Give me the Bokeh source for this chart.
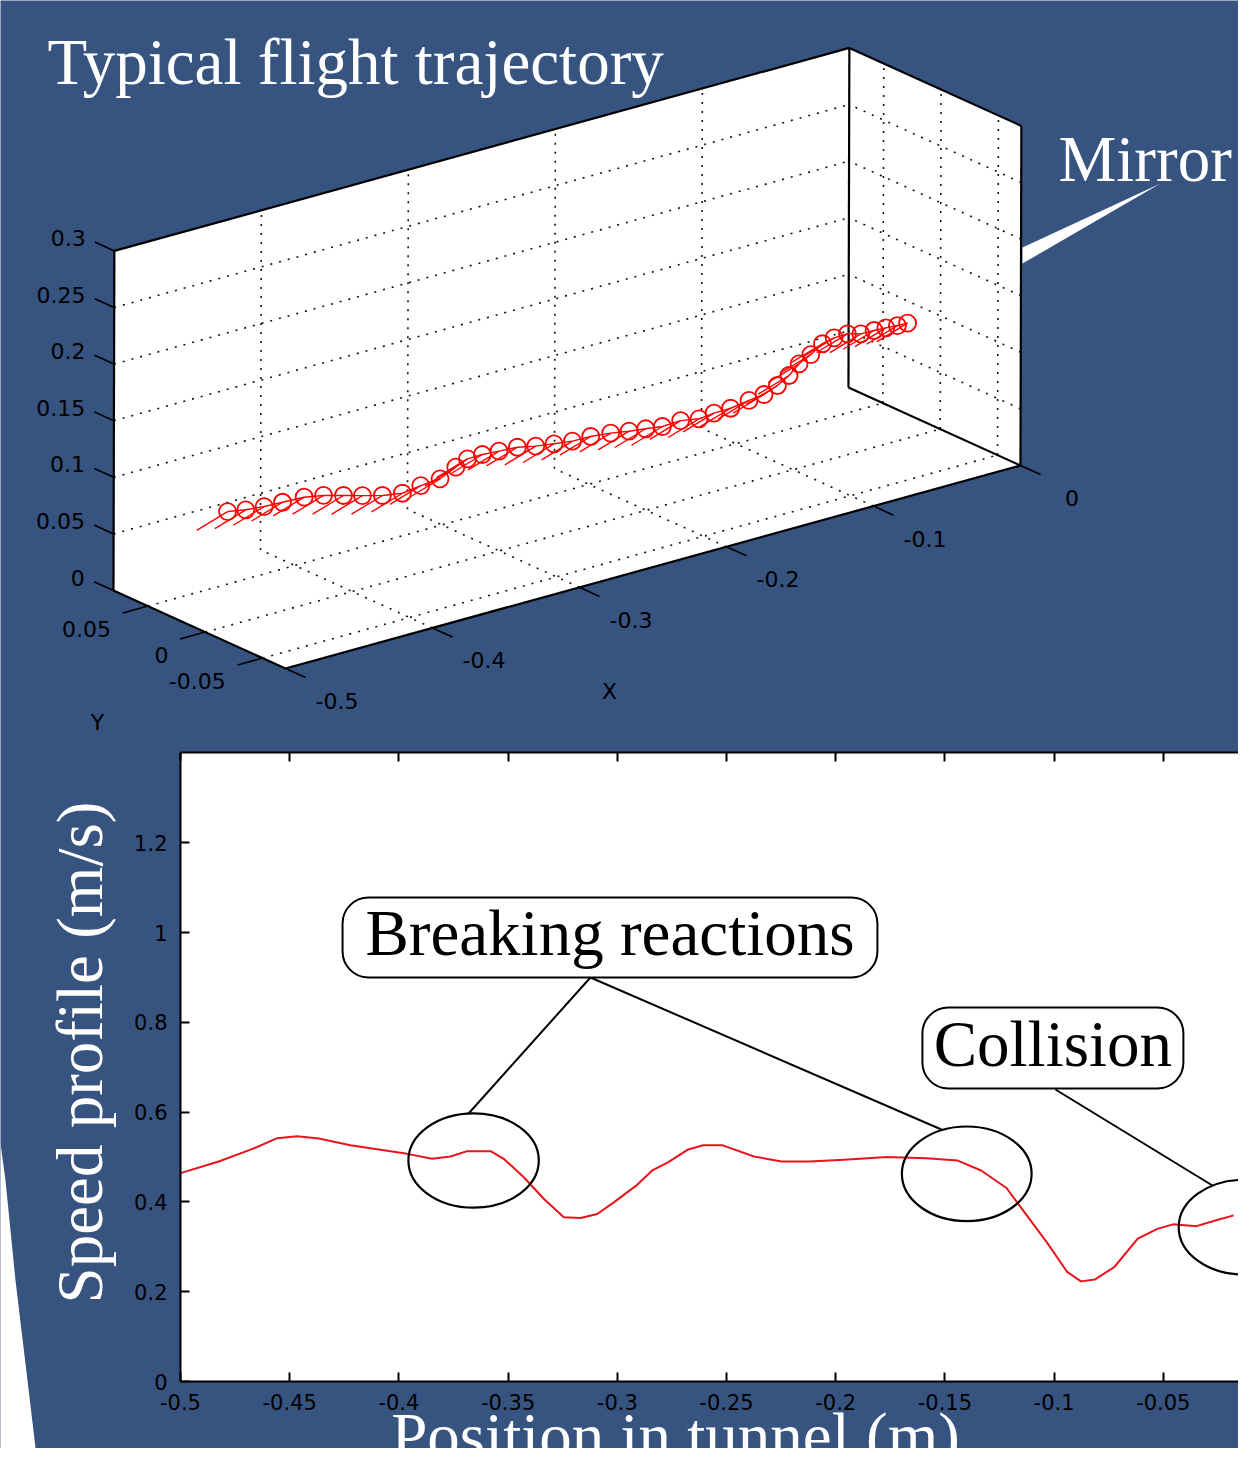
import numpy as np
from bokeh.plotting import figure
from bokeh.models import Range1d, LinearAxis, FixedTicker
from bokeh.embed import file_html
from bokeh.resources import INLINE
from bokeh.core.properties import value

# ---------------- data: speed profile (lower panel) ----------------
position_m = [-0.5, -0.4825, -0.467, -0.4557, -0.4466, -0.4367, -0.4222, -0.4069, -0.3962, -0.3848,
              -0.3764, -0.3687, -0.358, -0.352, -0.3428, -0.3337, -0.3245, -0.3168, -0.3092, -0.3016,
              -0.2909, -0.284, -0.2768, -0.2679, -0.2607, -0.2517, -0.2374, -0.2248, -0.2123, -0.1962,
              -0.1764, -0.1585, -0.1441, -0.1334, -0.1218, -0.1119, -0.1029, -0.094, -0.0877, -0.0814,
              -0.0724, -0.0617, -0.0527, -0.0456, -0.0348, -0.0258, -0.0178]
speed_ms = [0.464, 0.490, 0.518, 0.542, 0.546, 0.541, 0.526, 0.515, 0.507, 0.496,
            0.501, 0.513, 0.513, 0.496, 0.455, 0.407, 0.366, 0.364, 0.373, 0.399,
            0.438, 0.470, 0.488, 0.516, 0.526, 0.526, 0.501, 0.490, 0.490, 0.494,
            0.500, 0.497, 0.492, 0.470, 0.431, 0.366, 0.307, 0.244, 0.223, 0.227,
            0.255, 0.318, 0.340, 0.350, 0.346, 0.359, 0.370]
position_ticks = [-0.5, -0.45, -0.4, -0.35, -0.3, -0.25, -0.2, -0.15, -0.1, -0.05, 0.0]
position_tick_labels = ["-0.5", "-0.45", "-0.4", "-0.35", "-0.3", "-0.25", "-0.2", "-0.15", "-0.1", "-0.05", "0"]
speed_ticks = [0.0, 0.2, 0.4, 0.6, 0.8, 1.0, 1.2]
speed_tick_labels = ["0", "0.2", "0.4", "0.6", "0.8", "1", "1.2"]
position_limits = [-0.5, 0.0]
speed_limits = [0.0, 1.4]

# annotations of the lower panel (in its data units)
ellipse_x = [-0.3658, -0.1400, -0.0132]
ellipse_y = [0.4922, 0.4626, 0.3437]
ellipse_w = [0.0597, 0.0594, 0.0595]
ellipse_h = [0.2100, 0.2109, 0.2109]
box_text = ["Breaking reactions", "Collision"]
box_left = [-0.4258, -0.1603]
box_right = [-0.1809, -0.0408]
box_bottom = [0.8998, 0.6526]
box_top = [1.0780, 0.8330]
box_text_y = [0.9488, 0.7016]          # text baselines
callout_x0 = [-0.3123, -0.3123, -0.0994]
callout_y0 = [0.8998, 0.8998, 0.6503]
callout_x1 = [-0.3681, -0.1516, -0.0275]
callout_y1 = [0.5969, 0.5612, 0.4365]

# ---------------- data: 3D flight trajectory (upper panel) ----------------
traj_x = [-0.4850, -0.4726, -0.4601, -0.4476, -0.4329, -0.4197, -0.4061, -0.3932, -0.3796, -0.3660,
          -0.3535, -0.3404, -0.3297, -0.3218, -0.3116, -0.3003, -0.2878, -0.2753, -0.2629, -0.2503,
          -0.2379, -0.2243, -0.2118, -0.2005, -0.1891, -0.1767, -0.1642, -0.1540, -0.1427, -0.1302,
          -0.1200, -0.1109, -0.1030, -0.0962, -0.0882, -0.0803, -0.0724, -0.0633, -0.0542, -0.0452,
          -0.0372, -0.0293, -0.0224]
traj_z = [0.1011, 0.0982, 0.0966, 0.0959, 0.0951, 0.0919, 0.0870, 0.0823, 0.0775, 0.0746,
          0.0769, 0.0782, 0.0846, 0.0891, 0.0893, 0.0882, 0.0872, 0.0837, 0.0813, 0.0791,
          0.0788, 0.0769, 0.0741, 0.0722, 0.0701, 0.0709, 0.0680, 0.0693, 0.0696, 0.0720,
          0.0736, 0.0783, 0.0843, 0.0922, 0.0975, 0.1042, 0.1066, 0.1069, 0.1036, 0.1033,
          0.1028, 0.1020, 0.1016]
traj_y = 0.0            # centre line of the tunnel
body_dx, body_dz = -0.021, -0.009   # body-axis segment drawn from every sample
x3_limits = [-0.5, 0.0]
y3_limits = [-0.07, 0.08]
z3_limits = [0.0, 0.3]
x3_ticks = [-0.5, -0.4, -0.3, -0.2, -0.1, 0.0]
x3_labels = ["-0.5", "-0.4", "-0.3", "-0.2", "-0.1", "0"]
y3_ticks = [-0.05, 0.0, 0.05]
y3_labels = ["-0.05", "0", "0.05"]
z3_ticks = [0.0, 0.05, 0.1, 0.15, 0.2, 0.25, 0.3]
z3_labels = ["0", "0.05", "0.1", "0.15", "0.2", "0.25", "0.3"]

# ---------------- layout ----------------
BLUE = "#375380"
W, H, OFF = 1238, 1448, 0
X0_PX, PX_PER_X = 180.0, 2184.0
Y0_PX, PX_PER_Y = 1381.0, 449.0
MID = 22  # distance from text middle to alphabetic baseline for the 65px serif


def px_to_x(px):
    return position_limits[0] + (px - X0_PX) / PX_PER_X


def py_to_y(py):
    return speed_limits[0] + (Y0_PX - py) / PX_PER_Y


p = figure(width=W, height=H, output_backend="svg", toolbar_location=None,
           x_range=Range1d(px_to_x(OFF), px_to_x(OFF + W)),
           y_range=Range1d(py_to_y(OFF + H), py_to_y(OFF)),
           x_axis_location=None, y_axis_location=None, min_border=0,
           background_fill_color=BLUE, border_fill_color=BLUE, outline_line_color=None)
p.grid.visible = False
p.extra_x_ranges = {"px": Range1d(OFF, OFF + W)}
p.extra_y_ranges = {"px": Range1d(OFF + H, OFF)}
PX = dict(x_range_name="px", y_range_name="px")

serif = value("Liberation Serif")
sans = value("DejaVu Sans")

# white page corner at the bottom left
p.patch([0, 5, 15, 27, 37, 0], [1143, 1180, 1280, 1380, 1464, 1464],
        fill_color="white", line_color=None, **PX)

# ---------------- 3D view projection ----------------
VIEW_ORIGIN = (939.7, 428.6)
VIEW_EX = (1470.0, -406.0)
VIEW_EY = (-1146.7, -520.0)
VIEW_EZ = (3.0, -1132.0)


def proj(X, Y, Z):
    X, Y, Z = np.broadcast_arrays(np.asarray(X, float), np.asarray(Y, float), np.asarray(Z, float))
    sx = VIEW_ORIGIN[0] + VIEW_EX[0] * X + VIEW_EY[0] * Y + VIEW_EZ[0] * Z
    sy = VIEW_ORIGIN[1] + VIEW_EX[1] * X + VIEW_EY[1] * Y + VIEW_EZ[1] * Z
    return sx.tolist(), sy.tolist()


def seg3(a, b):
    return proj([a[0], b[0]], [a[1], b[1]], [a[2], b[2]])


xa, xb = x3_limits
ya, yb = y3_limits
za, zb = z3_limits
hexagon = [(xa, yb, zb), (xb, yb, zb), (xb, ya, zb), (xb, ya, za), (xa, ya, za), (xa, yb, za)]
hx, hy = proj(*zip(*hexagon))
p.patch(hx, hy, fill_color="white", line_color=None, **PX)

# dotted grid on the three back planes
inner_x = [t for t in x3_ticks if xa < t < xb]
inner_z = [t for t in z3_ticks if za < t < zb]
grid = []
for t in inner_x:
    grid.append(seg3((t, yb, za), (t, yb, zb)))
    grid.append(seg3((t, ya, za), (t, yb, za)))
for t in inner_z:
    grid.append(seg3((xa, yb, t), (xb, yb, t)))
    grid.append(seg3((xb, ya, t), (xb, yb, t)))
for t in y3_ticks:
    grid.append(seg3((xa, t, za), (xb, t, za)))
    grid.append(seg3((xb, t, za), (xb, t, zb)))
p.multi_line([g[0] for g in grid], [g[1] for g in grid], line_color="#111111",
             line_width=1.6, line_dash="2 7", **PX)

# box edges
edges = [seg3(hexagon[i], hexagon[(i + 1) % 6]) for i in range(6)]
edges.append(seg3((xb, yb, zb), (xb, yb, za)))
edges.append(seg3((xb, yb, za), (xb, ya, za)))
p.multi_line([e[0] for e in edges], [e[1] for e in edges], line_color="black", line_width=2.2, **PX)

# ticks
ticks = []
for t in z3_ticks:
    ticks.append(seg3((xa, yb, t), (xa, yb + 0.017, t)))
for t in y3_ticks:
    ticks.append(seg3((xa, t, za), (xa - 0.017, t, za)))
for t in x3_ticks:
    ticks.append(seg3((t, ya, za), (t, ya - 0.0175, za)))
p.multi_line([e[0] for e in ticks], [e[1] for e in ticks], line_color="black", line_width=1.6, **PX)

lab_style = dict(text_font=sans, text_font_size="22px", text_color="black", text_baseline="middle")
zx, zy = proj(xa, yb + 0.025, z3_ticks)
p.text(zx, zy, text=z3_labels, text_align="right", **lab_style, **PX)
yx, yy = proj(xa - 0.025, y3_ticks, za - 0.011)
p.text(yx, yy, text=y3_labels, text_align="right", **lab_style, **PX)
xx, xy = proj(x3_ticks, ya - 0.045, za - 0.008)
p.text(xx, xy, text=x3_labels, text_align="center", **lab_style, **PX)
p.text([97, 609], [722, 691], text=["Y", "X"], text_align="center", **lab_style, **PX)

# trajectory
cx, cy = proj(traj_x, traj_y, traj_z)
tx, ty = proj(np.array(traj_x) + body_dx, traj_y, np.array(traj_z) + body_dz)
p.segment(cx, cy, tx, ty, line_color="#ff0000", line_width=1.4, **PX)
p.line(cx, cy, line_color="#ff0000", line_width=1.4, **PX)
p.scatter(cx, cy, marker="circle", size=17, fill_color=None, line_color="#ff0000",
          line_width=1.8, **PX)

# titles (anchored at the text middle, MID px above the baseline)
big = dict(text_font=serif, text_font_size="65px", text_color="white", text_baseline="middle")
p.text([47], [83 - MID], text=["Typical flight trajectory"], text_align="left", **big, **PX)
p.text([1058], [180 - MID], text=["Mirror"], text_align="left", **big, **PX)
p.patch([1160, 1022, 1022], [183, 247, 263], fill_color="white", line_color=None, **PX)
p.text([101 - MID], [1052], text=["Speed profile (m/s)"], angle=np.pi / 2, text_align="center",
       **big, **PX)
p.text([675], [1457 - MID], text=["Position in tunnel (m)"], text_align="center", **big, **PX)

# ---------------- lower panel ----------------
p.quad(left=[position_limits[0]], right=[position_limits[1]], bottom=[speed_limits[0]],
       top=[speed_limits[1]], fill_color="white", line_color=None)
p.line(position_m, speed_ms, line_color="#e8141c", line_width=2, line_join="round")
p.ellipse(ellipse_x, ellipse_y, width=ellipse_w, height=ellipse_h, fill_color=None,
          line_color="black", line_width=2.2)
p.segment(callout_x0, callout_y0, callout_x1, callout_y1, line_color="black", line_width=2)
p.quad(left=box_left, right=box_right, bottom=box_bottom, top=box_top, border_radius=26,
       fill_color="white", line_color="black", line_width=2)
p.text([(l + r) / 2 for l, r in zip(box_left, box_right)],
       [yv + MID / PX_PER_Y for yv in box_text_y], text=box_text,
       text_align="center", text_baseline="middle", text_font=serif,
       text_font_size="65px", text_color="black")


def style_axis(ax):
    ax.axis_line_color = "black"
    ax.axis_line_width = 2
    ax.major_tick_line_color = "black"
    ax.major_tick_line_width = 2
    ax.major_tick_in = 9
    ax.major_tick_out = 0
    ax.minor_tick_line_color = None
    ax.major_label_text_font = "DejaVu Sans"
    ax.major_label_text_font_size = "21px"
    ax.major_label_text_color = "black"


xax = LinearAxis(fixed_location=speed_limits[0], bounds=tuple(position_limits),
                 ticker=FixedTicker(ticks=position_ticks),
                 major_label_overrides=dict(zip(position_ticks, position_tick_labels)),
                 major_label_standoff=12)
style_axis(xax)
p.add_layout(xax, "below")

yax = LinearAxis(fixed_location=position_limits[0], bounds=tuple(speed_limits),
                 ticker=FixedTicker(ticks=speed_ticks),
                 major_label_overrides=dict(zip(speed_ticks, speed_tick_labels)),
                 major_label_standoff=13)
style_axis(yax)
p.add_layout(yax, "left")

tax = LinearAxis(fixed_location=speed_limits[1], bounds=tuple(position_limits),
                 ticker=FixedTicker(ticks=position_ticks),
                 major_label_overrides={t: "" for t in position_ticks})
style_axis(tax)
p.add_layout(tax, "above")

open("out.html", "w").write(file_html(p, INLINE))
